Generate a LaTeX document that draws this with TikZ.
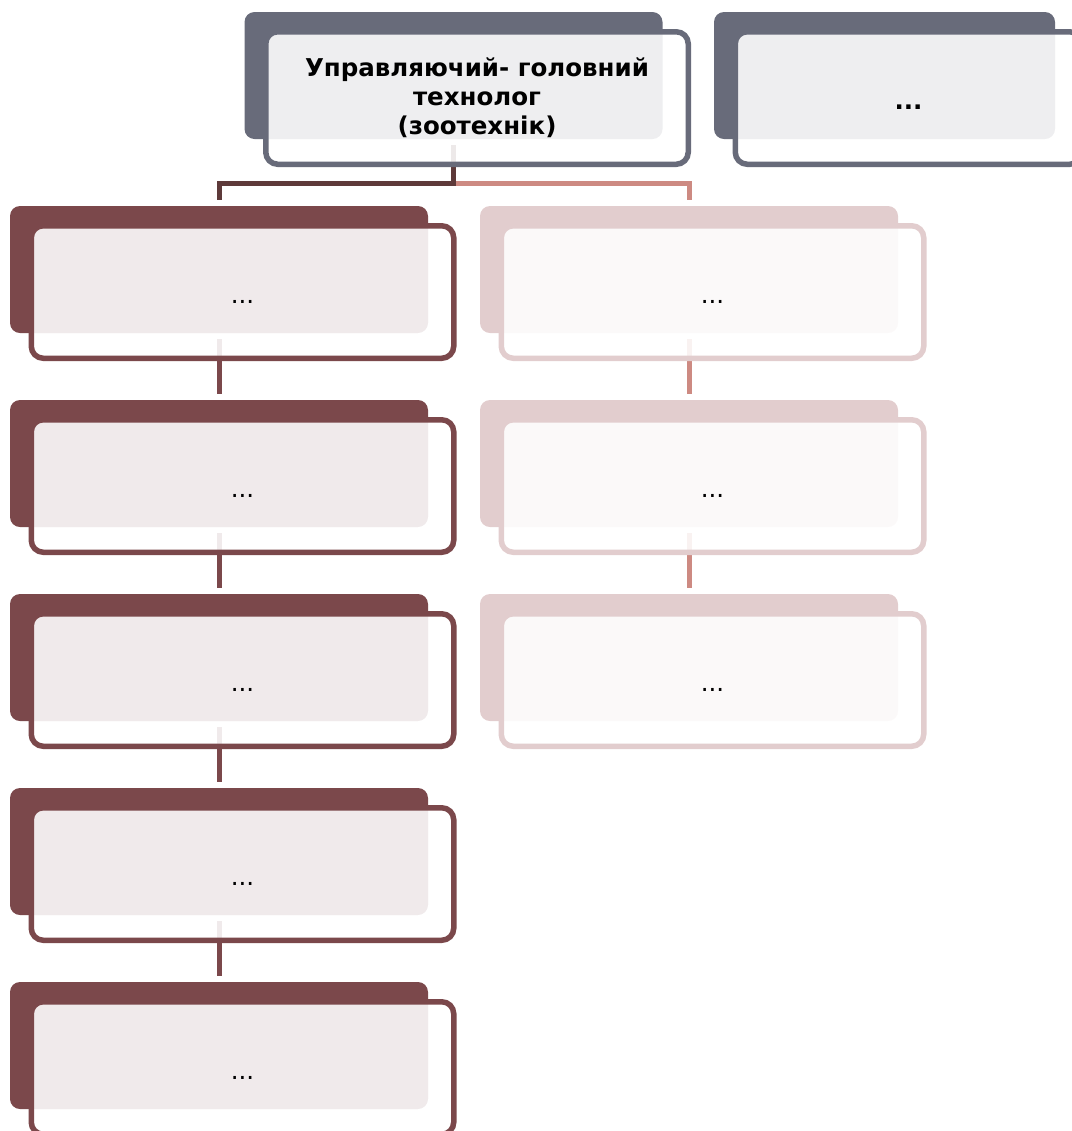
\documentclass[tikz,border=0pt]{standalone}
\usepackage{fontspec}
\setmainfont{DejaVu Sans}
\usetikzlibrary{calc}
\definecolor{headgray}{RGB}{104,107,122}
\definecolor{leftmaroon}{RGB}{123,72,75}
\definecolor{rightpink}{RGB}{226,205,206}
\definecolor{trunkdark}{RGB}{94,58,58}
\definecolor{rightlink}{RGB}{205,138,130}
\tikzset{
  backbox/.style={
    rectangle,
    inner sep=0pt,
    rounded corners=5pt,
    minimum width=209pt,
    minimum height=63.5pt
  },
  frontbox/.style={
    rectangle,
    inner sep=0pt,
    rounded corners=6pt,
    line width=2.75pt,
    fill=white,
    fill opacity=0.89,
    text opacity=1,
    minimum width=211.25pt,
    minimum height=66.25pt,
    font=\fontsize{12.25}{14.5}\selectfont
  },
  dotlabel/.style={
    text height=12pt,
    text depth=1pt
  },
  linkline/.style={
    line width=2.5pt,
    shorten <=3pt,
    shorten >=3pt
  }
}

\begin{document}
\begin{tikzpicture}[x=0.5pt,y=-0.5pt]

  \useasboundingbox (0,0) rectangle (1072,1131);

  % Back plates, drawn first.
  \node[backbox,fill=headgray] (headB) at (453.5,75.5) {};
  \node[backbox,fill=headgray,minimum width=170.5pt] (peerB) at (884.5,75.5) {};

  \node[backbox,fill=leftmaroon] (l1B) at (219,269.5) {};
  \node[backbox,fill=leftmaroon] (l2B) at (219,463.5) {};
  \node[backbox,fill=leftmaroon] (l3B) at (219,657.5) {};
  \node[backbox,fill=leftmaroon] (l4B) at (219,851.5) {};
  \node[backbox,fill=leftmaroon] (l5B) at (219,1045.5) {};

  \node[backbox,fill=rightpink] (r1B) at (689,269.5) {};
  \node[backbox,fill=rightpink] (r2B) at (689,463.5) {};
  \node[backbox,fill=rightpink] (r3B) at (689,657.5) {};

  % Connectors lie below the framed boxes.
  \draw[linkline,rightlink] (headB.south) -- ++(0,44) -| (r1B.north);
  \draw[linkline,trunkdark] (headB.south) -- ++(0,44) -| (l1B.north);

  \draw[linkline,leftmaroon] (l1B.south) -- (l2B.north);
  \draw[linkline,leftmaroon] (l2B.south) -- (l3B.north);
  \draw[linkline,leftmaroon] (l3B.south) -- (l4B.north);
  \draw[linkline,leftmaroon] (l4B.south) -- (l5B.north);

  \draw[linkline,rightlink] (r1B.south) -- (r2B.north);
  \draw[linkline,rightlink] (r2B.south) -- (r3B.north);

  % Framed boxes with the texts.
  \node[frontbox,draw=headgray,align=center,font=\fontsize{12.25}{14.5}\selectfont\bfseries]
    (head) at ($(headB)+(23.5,22.5)$)
    {Управляючий- головний\\технолог\\(зоотехнік)};
  \node[frontbox,dotlabel,draw=headgray,minimum width=173.25pt,
    font=\fontsize{12.25}{14.5}\selectfont\bfseries]
    (peer) at ($(peerB)+(24,22.5)$) {...};

  \node[frontbox,dotlabel,draw=leftmaroon] (l1) at ($(l1B)+(23.5,22.5)$) {...};
  \node[frontbox,dotlabel,draw=leftmaroon] (l2) at ($(l2B)+(23.5,22.5)$) {...};
  \node[frontbox,dotlabel,draw=leftmaroon] (l3) at ($(l3B)+(23.5,22.5)$) {...};
  \node[frontbox,dotlabel,draw=leftmaroon] (l4) at ($(l4B)+(23.5,22.5)$) {...};
  \node[frontbox,dotlabel,draw=leftmaroon] (l5) at ($(l5B)+(23.5,22.5)$) {...};

  \node[frontbox,dotlabel,draw=rightpink] (r1) at ($(r1B)+(23.5,22.5)$) {...};
  \node[frontbox,dotlabel,draw=rightpink] (r2) at ($(r2B)+(23.5,22.5)$) {...};
  \node[frontbox,dotlabel,draw=rightpink] (r3) at ($(r3B)+(23.5,22.5)$) {...};

\end{tikzpicture}
\end{document}
